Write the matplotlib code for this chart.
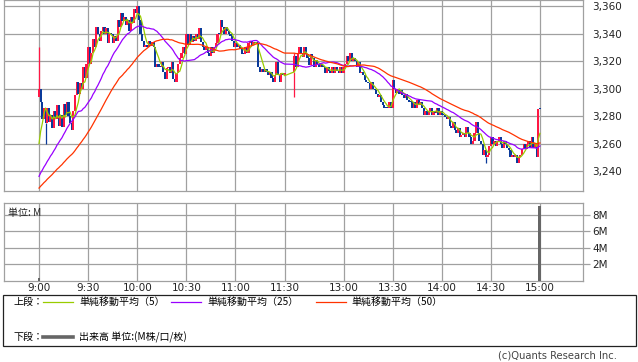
import numpy as np
import pandas as pd
import matplotlib
matplotlib.use('Agg')
import matplotlib.pyplot as plt
from matplotlib.lines import Line2D
from matplotlib.patches import Rectangle

# previous session closes, only used to seed the moving averages at 9:00
prev_close = [3220, 3218, 3219, 3221, 3217, 3218, 3220, 3219, 3216, 3218,
              3220, 3222, 3219, 3218, 3217, 3219, 3221, 3220, 3218, 3219,
              3220, 3218, 3219, 3221, 3219,
              3226, 3228, 3230, 3229, 3231, 3230, 3228, 3230, 3232, 3231,
              3229, 3230, 3232, 3231, 3230, 3229, 3231, 3232, 3230, 3233,
              3245, 3250, 3252, 3253]

# 1 minute bars, morning session 9:00 - 11:30
am_open = [3294, 3300, 3290, 3278, 3286, 3275, 3286, 3276, 3281, 3271,
           3284, 3278, 3288, 3273, 3281, 3272, 3289, 3281, 3290, 3280,
           3275, 3270, 3284, 3295, 3305, 3296, 3304, 3300, 3316, 3308,
           3318, 3330, 3318, 3326, 3336, 3330, 3345, 3340, 3335, 3342,
           3345, 3340, 3344, 3333, 3340, 3340, 3333, 3338, 3335, 3350,
           3345, 3355, 3349, 3352, 3346, 3350, 3342, 3352, 3348, 3358,
           3355, 3360, 3350, 3340, 3335, 3330, 3332, 3330, 3335, 3331,
           3334, 3330, 3316, 3318, 3316, 3316, 3319, 3312, 3307, 3315,
           3316, 3311, 3319, 3307, 3305, 3311, 3318, 3322, 3326, 3330,
           3325, 3340, 3332, 3340, 3334, 3338, 3335, 3340, 3336, 3344,
           3334, 3330, 3328, 3330, 3326, 3324, 3330, 3326, 3330, 3333,
           3340, 3340, 3350, 3345, 3340, 3345, 3342, 3340, 3338, 3335,
           3330, 3333, 3330, 3332, 3329, 3325, 3325, 3330, 3326, 3333,
           3335, 3332, 3334, 3333, 3333, 3316, 3312, 3314, 3312, 3314,
           3312, 3310, 3312, 3308, 3305, 3310, 3319, 3310, 3305, 3311,
           3310]
am_close = [3300, 3290, 3278, 3286, 3275, 3286, 3276, 3281, 3271, 3284,
            3278, 3288, 3273, 3281, 3272, 3289, 3281, 3290, 3280, 3275,
            3270, 3284, 3295, 3305, 3296, 3304, 3300, 3316, 3308, 3318,
            3330, 3318, 3326, 3336, 3330, 3345, 3340, 3335, 3342, 3345,
            3340, 3344, 3333, 3340, 3340, 3333, 3338, 3335, 3350, 3345,
            3355, 3349, 3352, 3346, 3350, 3342, 3352, 3348, 3358, 3355,
            3360, 3350, 3340, 3335, 3330, 3332, 3330, 3335, 3331, 3334,
            3330, 3316, 3318, 3316, 3316, 3319, 3312, 3307, 3315, 3316,
            3311, 3319, 3307, 3305, 3311, 3318, 3322, 3326, 3330, 3325,
            3340, 3332, 3340, 3334, 3338, 3335, 3340, 3336, 3344, 3334,
            3330, 3328, 3330, 3326, 3324, 3330, 3326, 3330, 3333, 3340,
            3340, 3350, 3345, 3340, 3345, 3342, 3340, 3338, 3335, 3330,
            3333, 3330, 3332, 3329, 3325, 3325, 3330, 3326, 3333, 3335,
            3332, 3334, 3333, 3333, 3316, 3312, 3314, 3312, 3314, 3312,
            3310, 3312, 3308, 3305, 3310, 3319, 3310, 3305, 3311, 3310,
            3311]

# afternoon session 12:30 - 15:00
pm_open = [3312, 3324, 3316, 3325, 3330, 3325, 3323, 3330, 3325, 3322,
           3317, 3325, 3322, 3316, 3321, 3318, 3316, 3318, 3316, 3316,
           3311, 3316, 3313, 3311, 3316, 3311, 3316, 3313, 3311, 3316,
           3311, 3316, 3318, 3324, 3320, 3326, 3320, 3322, 3320, 3316,
           3319, 3311, 3312, 3310, 3306, 3305, 3304, 3300, 3305, 3300,
           3299, 3296, 3294, 3295, 3290, 3288, 3286, 3286, 3286, 3290,
           3286, 3306, 3300, 3297, 3300, 3296, 3299, 3295, 3293, 3296,
           3292, 3290, 3290, 3286, 3290, 3286, 3292, 3288, 3290, 3286,
           3281, 3284, 3281, 3284, 3286, 3281, 3284, 3282, 3286, 3281,
           3284, 3281, 3281, 3279, 3278, 3279, 3273, 3271, 3276, 3270,
           3268, 3271, 3265, 3266, 3268, 3265, 3272, 3268, 3265, 3260,
           3262, 3268, 3276, 3268, 3262, 3260, 3252, 3255, 3250, 3252,
           3258, 3265, 3260, 3262, 3258, 3262, 3265, 3260, 3257, 3262,
           3260, 3257, 3255, 3250, 3252, 3250, 3252, 3246, 3250, 3252,
           3256, 3260, 3256, 3260, 3262, 3257, 3265, 3257, 3260, 3250,
           3285]
pm_close = [3324, 3316, 3325, 3330, 3325, 3323, 3330, 3325, 3322, 3317,
            3325, 3322, 3316, 3321, 3318, 3316, 3318, 3316, 3316, 3311,
            3316, 3313, 3311, 3316, 3311, 3316, 3313, 3311, 3316, 3311,
            3316, 3318, 3324, 3320, 3326, 3320, 3322, 3320, 3316, 3319,
            3311, 3312, 3310, 3306, 3305, 3304, 3300, 3305, 3300, 3299,
            3296, 3294, 3295, 3290, 3288, 3286, 3286, 3286, 3290, 3286,
            3306, 3300, 3297, 3300, 3296, 3299, 3295, 3293, 3296, 3292,
            3290, 3290, 3286, 3290, 3286, 3292, 3288, 3290, 3286, 3281,
            3284, 3281, 3284, 3286, 3281, 3284, 3282, 3286, 3281, 3284,
            3281, 3281, 3279, 3278, 3279, 3273, 3271, 3276, 3270, 3268,
            3271, 3265, 3266, 3268, 3265, 3272, 3268, 3265, 3260, 3262,
            3268, 3276, 3268, 3262, 3260, 3252, 3255, 3250, 3252, 3258,
            3265, 3260, 3262, 3258, 3262, 3265, 3260, 3257, 3262, 3260,
            3257, 3255, 3250, 3252, 3250, 3252, 3246, 3250, 3252, 3256,
            3260, 3256, 3260, 3262, 3257, 3265, 3257, 3260, 3250, 3285,
            3285]

# wicks sticking out of the bodies (bar index: price)
am_high = {0: 3330}
am_low = {4: 3260}
pm_high = {0: 3326}
pm_low = {0: 3294, 117: 3246}

# volume in M shares (the other minutes are too small to show)
vol_time = ['9:00', '15:00']
vol_value = [0.25, 9.1]

tick_labels = ['9:00', '9:30', '10:00', '10:30', '11:00', '11:30',
               '13:00', '13:30', '14:00', '14:30', '15:00']
price_ticks = [3240, 3260, 3280, 3300, 3320, 3340, 3360]
vol_ticks = [2, 4, 6, 8]
ma_windows = [5, 25, 50]
ma_colors = ['#99cc00', '#9900ff', '#ff3300']

UP = '#ff1744'
DOWN = '#0a3a9a'
GRID = '#a0a0a0'
JP = ['Noto Sans CJK JP', 'DejaVu Sans']


def slot(t):
    # bar slot on the x axis, lunch break squeezed to a small gap
    h, m = map(int, t.split(':'))
    mins = h * 60 + m
    if mins <= 11 * 60 + 30:
        return mins - 9 * 60
    return 156 + mins - (12 * 60 + 30)


def draw_candles(ax, xs, opens, closes, highs, lows):
    opens = np.array(opens, float)
    closes = np.array(closes, float)
    colors = [UP if c > o else DOWN for o, c in zip(opens, closes)]
    bottom = np.minimum(opens, closes)
    height = np.maximum(np.abs(closes - opens), 0.8)
    ax.bar(xs, height, bottom=bottom, width=1.3, color=colors, linewidth=0, zorder=3)
    for i, hi in highs.items():
        ax.vlines(xs[i], max(opens[i], closes[i]), hi, color=colors[i], lw=0.9, zorder=3)
    for i, lo in lows.items():
        ax.vlines(xs[i], lo, min(opens[i], closes[i]), color=colors[i], lw=0.9, zorder=3)


def style_axis(ax):
    for s in ax.spines.values():
        s.set_color(GRID)
        s.set_linewidth(0.9)
    ax.grid(True, color=GRID, lw=0.9)
    ax.set_axisbelow(True)
    ax.set_xlim(-21.7, 332)
    ax.set_xticks([slot(t) for t in tick_labels])


def main():
    assert len(am_open) == len(am_close) == 151
    assert len(pm_open) == len(pm_close) == 151

    W, H = 638, 362
    fig = plt.figure(figsize=(W / 100, H / 100), dpi=100)
    ax = fig.add_axes([3.5 / W, 1 - 190.5 / H, 579 / W, 190.5 / H])
    axv = fig.add_axes([3.5 / W, 1 - 280.5 / H, 579 / W, 78 / H])

    am_x = np.arange(len(am_close)) + slot('9:00')
    pm_x = np.arange(len(pm_close)) + slot('12:30')

    # price panel
    style_axis(ax)
    draw_candles(ax, am_x, am_open, am_close, am_high, am_low)
    draw_candles(ax, pm_x, pm_open, pm_close, pm_high, pm_low)

    closes = pd.Series(prev_close + am_close + pm_close, dtype=float)
    xs = np.concatenate([am_x, pm_x])
    n = len(xs)
    for w, c in zip(ma_windows, ma_colors):
        ma = closes.rolling(w).mean().to_numpy()[-n:]
        ax.plot(xs, ma, color=c, lw=0.9, zorder=4)

    ax.set_ylim(3225.8, 3364.5)
    ax.set_yticks(price_ticks)
    ax.yaxis.tick_right()
    ax.set_yticklabels(['{:,}'.format(p) for p in price_ticks])
    ax.tick_params(axis='y', length=0, pad=7, labelsize=7.5, labelcolor='#222222')
    ax.tick_params(axis='x', length=0, labelbottom=False)

    # volume panel
    style_axis(axv)
    axv.bar([slot(t) for t in vol_time], vol_value, width=1.8, color='#666666',
            linewidth=0, zorder=3)
    axv.set_ylim(0, 9.55)
    axv.set_yticks(vol_ticks)
    axv.yaxis.tick_right()
    axv.set_yticklabels(['{}M'.format(v) for v in vol_ticks])
    axv.tick_params(axis='y', length=5, width=0.9, color=GRID, pad=2,
                    labelsize=7.5, labelcolor='#222222')
    axv.set_xticklabels(tick_labels)
    axv.tick_params(axis='x', length=0, pad=2, labelsize=7.5, labelcolor='#222222')
    axv.text(0.008, 0.93, '単位: M', transform=axv.transAxes, ha='left', va='top',
             fontsize=7.2, family=JP, color='#222222')

    # legend box at the bottom
    fig.patches.append(Rectangle((3 / W, 1 - 346 / H), 633 / W, 51 / H,
                                 transform=fig.transFigure, fill=False,
                                 edgecolor='#222222', lw=0.9))
    y1 = 1 - 302 / H
    y2 = 1 - 337 / H
    fig.text(13 / W, y1, '上段：', fontsize=7.2, family=JP, va='center')
    legend_items = [(43, 79, '単純移動平均（5）'), (171, 207, '単純移動平均（25）'),
                    (316, 351, '単純移動平均（50）')]
    for (x0, xt, label), c in zip(legend_items, ma_colors):
        fig.add_artist(Line2D([x0 / W, (x0 + 30) / W], [y1, y1], color=c, lw=0.9))
        fig.text(xt / W, y1, label, fontsize=7.2, family=JP, va='center')
    fig.text(13 / W, y2, '下段：', fontsize=7.2, family=JP, va='center')
    fig.add_artist(Line2D([43 / W, 73 / W], [y2, y2], color='#666666', lw=2.6))
    fig.text(79 / W, y2, '出来高 単位:(M株/口/枚)', fontsize=7.2, family=JP, va='center')

    fig.text(617 / W, 1 - 356 / H, '(c)Quants Research Inc.', ha='right', va='center',
             fontsize=7.2, color='#444444')

    fig.savefig('out.png', dpi=100)


if __name__ == '__main__':
    main()
